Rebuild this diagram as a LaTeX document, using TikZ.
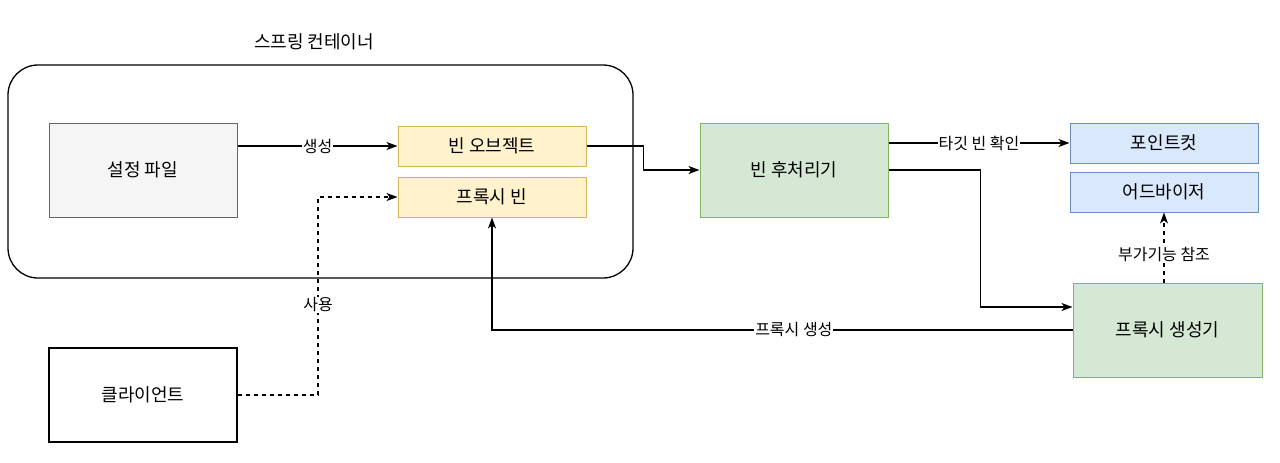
\documentclass[tikz,border=0pt]{standalone}
\usepackage{fontspec}
\setmainfont{Noto Sans CJK KR}
\usetikzlibrary{arrows.meta}
\definecolor{cfgfill}{HTML}{F5F5F5}
\definecolor{cfgdraw}{HTML}{666666}
\definecolor{beanfill}{HTML}{FFF2CC}
\definecolor{beandraw}{HTML}{D6B656}
\definecolor{procfill}{HTML}{D5E8D4}
\definecolor{procdraw}{HTML}{82B366}
\definecolor{aopfill}{HTML}{DAE8FC}
\definecolor{aopdraw}{HTML}{6C8EBF}
\tikzset{
  box/.style={draw, line width=1pt, minimum width=188pt, inner sep=0pt,
    font=\fontsize{18}{20}\selectfont},
  lbl/.style={fill=white, inner sep=1pt, font=\fontsize{16}{18}\selectfont},
  conn/.style={line width=1.3pt, -{Stealth[length=11pt,width=8pt,inset=3pt]}},
  dconn/.style={conn, dash pattern=on 4pt off 4pt}
}
\begin{document}
\begin{tikzpicture}[x=1pt,y=-1pt]
  \useasboundingbox (0,0) rectangle (1280,463);
  % container
  \node[draw, line width=1.3pt, rounded corners=30pt, minimum width=625pt, minimum height=213pt] (container) at (320.5,171.5) {};
  \node[font=\fontsize{18}{20}\selectfont] (title) at (314,42) {스프링 컨테이너};
  % boxes
  \node[box, minimum height=94pt, fill=cfgfill, draw=cfgdraw] (config) at (143,170) {설정 파일};
  \node[box, minimum height=40pt, fill=beanfill, draw=beandraw] (bean) at (492,146) {빈 오브젝트};
  \node[box, minimum height=40pt, fill=beanfill, draw=beandraw] (proxybean) at (492,197) {프록시 빈};
  \node[box, minimum height=94pt, fill=procfill, draw=procdraw] (postproc) at (794,170) {빈 후처리기};
  \node[box, minimum height=40pt, fill=aopfill, draw=aopdraw] (pointcut) at (1164,143) {포인트컷};
  \node[box, minimum height=40pt, fill=aopfill, draw=aopdraw] (advisor) at (1164,192) {어드바이저};
  \node[box, minimum width=189pt, minimum height=94pt, fill=procfill, draw=procdraw] (generator) at (1167.5,330) {프록시 생성기};
  \node[box, minimum height=94pt, fill=white, line width=1.3pt] (client) at (143,395) {클라이언트};
  % connectors
  \draw[conn] (config.east |- bean) -- (bean.west) node[midway, lbl] {생성};
  \draw[conn] (bean.east) -- ++(57,0) |- (postproc.west);
  \draw[conn] (postproc.east |- pointcut) -- (pointcut.west) node[midway, lbl] {타깃 빈 확인};
  \draw[conn] (postproc.east) -- ++(92,0) |- ([yshift=23pt]generator.west);
  \draw[conn] (generator.west) -| (proxybean.south) node[pos=0.24, lbl] {프록시 생성};
  \draw[dconn] (advisor.south |- generator.north) -- (advisor.south) node[pos=0.4, lbl] {부가기능 참조};
  \draw[dconn] (client.east) -| (318,305) node[lbl] {사용} |- (proxybean.west);
\end{tikzpicture}
\end{document}
